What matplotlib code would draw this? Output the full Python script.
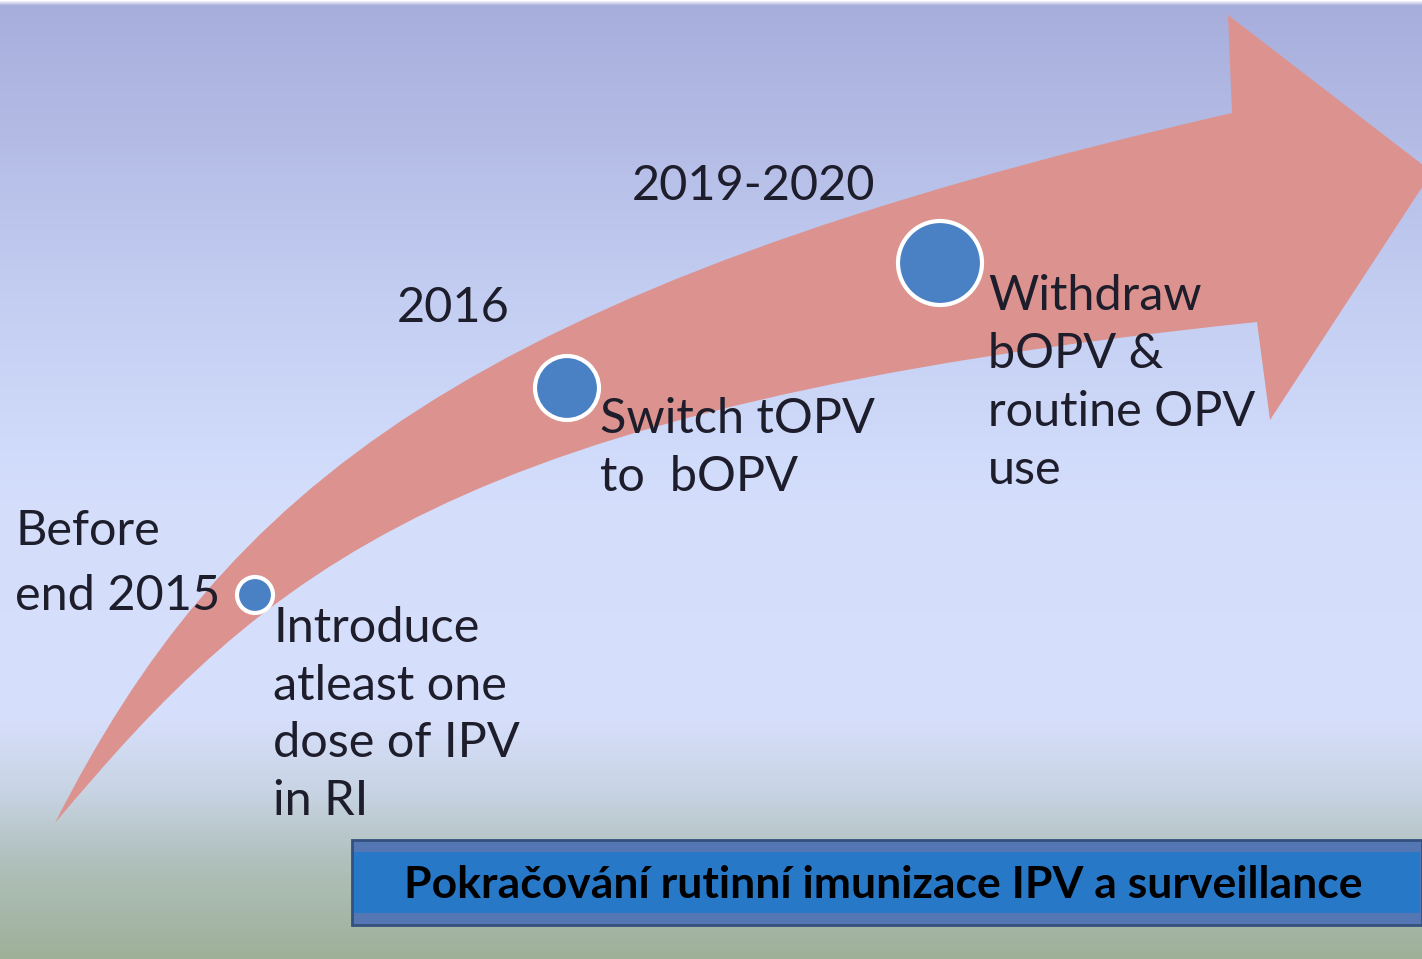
import matplotlib

matplotlib.use("Agg")
import matplotlib.pyplot as plt
import numpy as np
from matplotlib.patches import Circle, PathPatch, Rectangle
from matplotlib.path import Path

plt.rcParams["font.family"] = ["Lato", "DejaVu Sans"]

# milestones along the arrow: year label, action text, marker radius (px)
YEARS = ["Before\nend 2015", "2016", "2019-2020"]
ACTIONS = [
    "Introduce\natleast one\ndose of IPV\nin RI",
    "Switch tOPV\nto  bOPV",
    "Withdraw\nbOPV &\nroutine OPV\nuse",
]
MARKER_R = [18, 32, 42]
BANNER = "Pokračování rutinní imunizace IPV a surveillance"

W, H = 1422, 959
TEXT = "#1d1d2b"
PINK = "#dc928e"
BLUE = "#4a80c4"
FS = 35

fig = plt.figure(figsize=(W / 100, H / 100), dpi=100)
ax = fig.add_axes([0, 0, 1, 1])
ax.set_xlim(0, W)
ax.set_ylim(H, 0)
ax.axis("off")

# vertical background gradient (lavender top, pale blue middle, grey-green bottom)
stops_y = [0, 5, 120, 300, 500, 720, 790, 860, 959]
stops_c = np.array([
    [255, 255, 255], [168, 174, 220], [178, 186, 228], [196, 206, 242],
    [212, 222, 252], [214, 222, 250], [200, 212, 228], [176, 192, 188],
    [158, 176, 152],
]) / 255.0
ys = np.arange(H)
grad = np.stack([np.interp(ys, stops_y, stops_c[:, k]) for k in range(3)], axis=-1)
ax.imshow(grad[:, None, :], extent=(0, W, H, 0), aspect="auto", zorder=0)

# curved arrow: top edge bezier, head, bottom edge bezier back to the tail
verts = [
    (55, 823), (223, 491), (464, 289), (1232, 113),
    (1228, 15), (1432, 172), (1270, 420), (1257, 322),
    (447, 406), (265, 573), (55, 823),
]
codes = [Path.MOVETO, Path.CURVE4, Path.CURVE4, Path.CURVE4,
         Path.LINETO, Path.LINETO, Path.LINETO, Path.LINETO,
         Path.CURVE4, Path.CURVE4, Path.CURVE4]
ax.add_patch(PathPatch(Path(verts, codes), facecolor=PINK, edgecolor="none", zorder=1))

# markers sitting on the arrow
centres = [(255, 595), (567, 388), (940, 263)]
for (cx, cy), r in zip(centres, MARKER_R):
    ax.add_patch(Circle((cx, cy), r, facecolor=BLUE, edgecolor="white",
                        linewidth=3, zorder=3))


def block(x, y, txt, step):
    """Write a multi-line label one line at a time, baseline to baseline."""
    for i, line in enumerate(txt.split("\n")):
        ax.text(x, y + i * step, line, fontsize=FS, color=TEXT, ha="left",
                va="baseline", zorder=4)


block(15, 545, YEARS[0], 65)
block(397, 322, YEARS[1], 0)
block(632, 200, YEARS[2], 0)

block(273, 642, ACTIONS[0], 57.7)
block(600, 433, ACTIONS[1], 58)
block(988, 310, ACTIONS[2], 58)

# bottom banner
ax.add_patch(Rectangle((352, 840), W - 352, 85, facecolor="#5477b3",
                       edgecolor="#34507e", linewidth=2, zorder=2))
ax.add_patch(Rectangle((354, 852), W - 356, 61, facecolor="#2878c8",
                       edgecolor="none", zorder=2))
ax.text(883, 898, BANNER, fontsize=32, fontweight="bold", color="black",
        va="baseline", ha="center", zorder=4)

fig.savefig("out.png", dpi=100)
plt.close(fig)
